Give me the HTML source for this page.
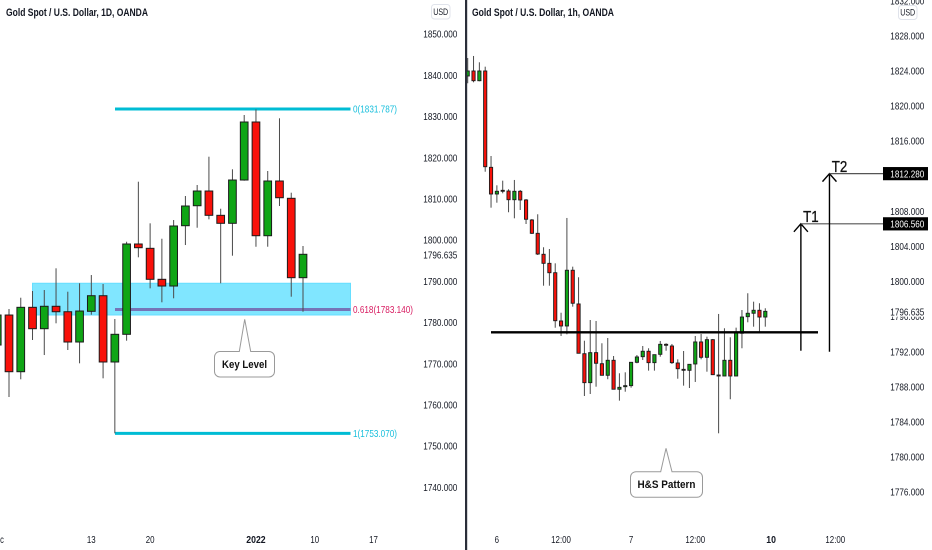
<!DOCTYPE html>
<html lang="en">
<head>
<meta charset="utf-8">
<title>Gold Spot / U.S. Dollar charts</title>
<style>
html,body{margin:0;padding:0;background:#fff;width:932px;height:550px;overflow:hidden}
svg{display:block;filter:blur(.3px)}
text{font-family:"Liberation Sans",sans-serif}
</style>
</head>
<body>
<svg id="chart" xmlns="http://www.w3.org/2000/svg" width="932" height="550" viewBox="0 0 932 550">
  <rect x="0" y="0" width="932" height="550" fill="#ffffff"/>
  <g id="left"></g>
  <g id="right"></g>
  <rect x="465" y="0" width="2.2" height="550" fill="#2a2e39"/>

  <text x="6" y="16" font-size="11" font-weight="700" fill="#131722" textLength="142" lengthAdjust="spacingAndGlyphs">Gold Spot / U.S. Dollar, 1D, OANDA</text>
  <text x="472" y="16" font-size="11" font-weight="700" fill="#131722" textLength="142" lengthAdjust="spacingAndGlyphs">Gold Spot / U.S. Dollar, 1h, OANDA</text>

  <g>
    <rect x="431.5" y="4.5" width="18.5" height="14.5" rx="3" fill="#fff" stroke="#e0e3eb"/>
    <text x="440.7" y="15" font-size="9.5" fill="#131722" text-anchor="middle" textLength="15" lengthAdjust="spacingAndGlyphs">USD</text>
  </g>
  <g>
    <rect x="898.5" y="5.5" width="18.5" height="14" rx="3" fill="#fff" stroke="#e0e3eb"/>
    <text x="907.7" y="15.5" font-size="9.5" fill="#131722" text-anchor="middle" textLength="15" lengthAdjust="spacingAndGlyphs">USD</text>
  </g>

  <g>
    <path d="M219.5 351.5 H239.3 L244.7 319.3 L250.7 351.5 H269 a5.5 5.5 0 0 1 5.5 5.5 V371.5 a5.5 5.5 0 0 1 -5.5 5.5 H220 a5.5 5.5 0 0 1 -5.5 -5.5 V357 a5.5 5.5 0 0 1 5 -5.5 Z" fill="#fff" stroke="#9a9a9a" stroke-width="1"/>
    <text x="244.5" y="368" font-size="11" font-weight="700" fill="#111" text-anchor="middle" textLength="45" lengthAdjust="spacingAndGlyphs">Key Level</text>
  </g>
  <g>
    <path d="M636 471.7 H660.7 L666 448.3 L672 471.7 H697 a5.5 5.5 0 0 1 5.5 5.5 V491.8 a5.5 5.5 0 0 1 -5.5 5.5 H636 a5.5 5.5 0 0 1 -5.5 -5.5 V477.2 a5.5 5.5 0 0 1 5.5 -5.5 Z" fill="#fff" stroke="#9a9a9a" stroke-width="1"/>
    <text x="666.5" y="488" font-size="11" font-weight="700" fill="#111" text-anchor="middle" textLength="58" lengthAdjust="spacingAndGlyphs">H&amp;S Pattern</text>
  </g>
</svg>
<script>
// ---- Daily chart data: [open, high, low, close] ----
const dailyCandles = [
  [1774.51,1785.44,1772.81,1781.79],[1781.79,1783.25,1761.89,1768.03],[1768.03,1785.99,1766.19,1783.66],
  [1783.66,1787.62,1775.73,1778.47],[1778.47,1787.86,1772.08,1783.91],[1783.91,1793.13,1779.78,1782.59],
  [1782.59,1787.45,1773.30,1775.24],[1775.24,1789.49,1770.07,1782.76],[1782.69,1791.50,1781.87,1786.48],
  [1786.48,1789.32,1766.43,1770.39],[1770.39,1780.82,1753.07,1777.11],[1777.11,1799.58,1775.56,1799.03],
  [1799.03,1814.15,1795.80,1798.13],[1797.98,1804.05,1788.27,1790.46],[1790.46,1800.31,1784.88,1788.83],
  [1788.83,1804.85,1785.85,1803.40],[1803.47,1810.68,1798.78,1808.25],[1808.32,1813.35,1802.98,1811.89],
  [1811.89,1820.22,1805.02,1805.99],[1805.99,1807.59,1789.49,1804.05],[1804.05,1817.16,1796.19,1814.56],
  [1814.56,1830.34,1814.39,1828.64],[1828.64,1831.72,1798.37,1801.04],[1801.04,1816.75,1798.37,1814.32],
  [1814.32,1829.54,1808.25,1810.26],[1810.12,1811.48,1786.24,1790.85],[1790.85,1798.54,1782.59,1796.53]
];
const dailyTicks = [1850,1840,1830,1820,1810,1800,1790,1780,1770,1760,1750,1740];
const dailyLastPrice = "1796.635";
const dailyTimeLabels = ["Dec","13","20","2022","10","17"];
const dailyTimeBars = [-1,7,12,21,26,31];
const dailyTimeBold = [false,false,false,true,false,false];
const fibValues = [1831.787,1783.14,1753.07];
const fibLabels = ["0(1831.787)","0.618(1783.140)","1(1753.070)"];
const keyZone = [1789.5,1781.8];

// ---- Hourly chart data: [open, high, low, close] ----
const hourlyCandles = [
  [1823.41,1825.46,1822.58,1823.98],[1823.98,1825.69,1822.69,1822.87],[1822.87,1824.97,1822.81,1823.98],
  [1823.98,1824.47,1812.50,1813.07],[1813.00,1814.29,1808.40,1809.96],[1809.96,1810.95,1808.97,1810.27],
  [1810.38,1811.48,1810.04,1810.27],[1810.30,1810.50,1807.88,1809.31],[1809.31,1811.56,1807.19,1810.27],
  [1810.27,1810.42,1808.14,1809.28],[1809.28,1809.39,1806.54,1807.08],[1807.00,1807.11,1805.40,1805.48],
  [1805.48,1807.65,1803.01,1803.12],[1803.09,1803.89,1799.51,1802.06],[1802.06,1803.69,1799.51,1800.99],
  [1800.99,1802.06,1794.72,1795.52],[1795.49,1796.43,1793.78,1794.92],[1794.92,1807.23,1793.97,1801.27],
  [1801.27,1801.68,1797.12,1797.51],[1797.43,1800.47,1791.81,1791.81],[1791.76,1793.24,1786.94,1788.46],
  [1788.46,1795.60,1787.17,1791.88],[1791.88,1795.49,1788.00,1790.67],[1790.62,1792.95,1789.30,1789.30],
  [1789.30,1793.55,1788.85,1791.01],[1791.01,1791.50,1787.71,1787.71],[1787.71,1789.53,1786.41,1787.93],
  [1788.00,1789.64,1787.43,1788.12],[1788.12,1790.78,1787.89,1790.78],[1790.78,1791.61,1790.67,1791.39],
  [1791.42,1792.64,1791.04,1792.04],[1792.04,1792.38,1789.83,1790.74],[1790.74,1791.65,1789.83,1791.65],
  [1791.69,1793.21,1791.42,1792.83],[1792.83,1792.95,1792.10,1792.72],[1792.64,1792.87,1790.59,1790.74],
  [1790.70,1791.12,1788.91,1790.05],[1789.98,1792.07,1788.12,1789.87],[1789.87,1790.55,1787.85,1790.55],
  [1790.59,1793.78,1788.54,1793.10],[1793.10,1794.01,1791.12,1791.35],[1791.35,1793.70,1789.71,1793.36],
  [1793.36,1793.44,1789.33,1789.37],[1789.33,1796.29,1782.69,1789.22],[1789.22,1794.66,1789.22,1791.01],
  [1791.01,1793.63,1786.57,1789.22],[1789.22,1794.73,1789.22,1794.16],[1794.09,1796.74,1792.38,1795.94],
  [1795.98,1798.65,1795.34,1796.37],[1796.37,1797.69,1794.84,1796.71],[1796.71,1797.51,1794.27,1795.94],
  [1795.94,1796.94,1794.84,1796.59]
];
const hourlyTicks = [1832,1828,1824,1820,1816,1812,1808,1804,1800,1796,1792,1788,1784,1780,1776];
const hourlyLastPrice = "1796.635";
const hourlyTimeLabels = ["6","12:00","7","12:00","10","12:00"];
const hourlyTimeBars = [5,16,28,39,52,63];
const hourlyTimeBold = [false,false,false,false,true,false];
const necklineLevel = 1794.2;
const targetValues = [1806.56,1812.28];
const targetNames = ["T1","T2"];
const targetLabels = ["1806.560","1812.280"];
const targetArrowBars = [57.1,62];
const targetStop = 1792.1;

// ---- Axis functions ----
const yL = p => 34 + (1850 - p) * 4.12;
const xL = i => 9 + 11.76 * i;
const yR = p => 35.7 + (1828 - p) * 8.775;
const xR = i => 467.7 + 5.835 * i;

const NS = "http://www.w3.org/2000/svg";
function make(tag, parent, attrs, txt) {
  const el = document.createElementNS(NS, tag);
  for (const k in attrs) el.setAttribute(k, attrs[k]);
  if (txt !== undefined) el.textContent = txt;
  parent.appendChild(el);
  return el;
}

function drawCandles(parent, rows, xf, yf, w, sw, firstIndex) {
  rows.forEach((r, n) => {
    const i = n + firstIndex;
    const up = r[3] >= r[0];
    const g = make("g", parent, {});
    
    
    make("line", g, {x1: xf(i), x2: xf(i), y1: yf(r[1]), y2: yf(r[2]), stroke: "#4a4a4a", "stroke-width": 1});
    const top = yf(Math.max(r[0], r[3]));
    const h = Math.max(Math.abs(yf(r[0]) - yf(r[3])), 0.6);
    make("rect", g, {x: xf(i) - w / 2, y: top, width: w, height: h, fill: up ? "#0fa515" : "#f8110a", stroke: "#1b1b1b", "stroke-width": sw});
  });
}

function tickText(parent, x, y, s, len, color, bold) {
  return make("text", parent, {x: x, y: y, "font-size": 10.5, fill: color || "#131722", textLength: len, lengthAdjust: "spacingAndGlyphs", "font-weight": bold ? 700 : 400}, s);
}

function timeText(parent, x, s, bold) {
  let len = 0;
  for (const ch of s) len += ch === ":" ? 2.2 : 4.4;
  if (bold) len *= 1.1;
  return make("text", parent, {x: x, y: 543, "font-size": 10.5, fill: "#131722", "text-anchor": "middle", textLength: len, lengthAdjust: "spacingAndGlyphs", "font-weight": bold ? 700 : 400}, s);
}

// ---- Daily pane ----
const L = document.getElementById("left");
const zone = make("rect", L, {x: 32.5, y: yL(keyZone[0]), width: 318, height: yL(keyZone[1]) - yL(keyZone[0]), fill: "#80e6ff", stroke: "#66deff", "stroke-width": 1});



const fibColors = ["#00bcd4", "#7575b8", "#00bcd4"];
const fibText = ["#18bfdc", "#d81b60", "#18bfdc"];
const fibLens = [44, 60, 44];
fibValues.forEach((v, k) => {
  const ln = make("line", L, {x1: 115, x2: 350.5, y1: yL(v), y2: yL(v), stroke: fibColors[k], "stroke-width": 3});
  
  
  const t = tickText(L, 353, yL(v) + 3.6, fibLabels[k], fibLens[k], fibText[k]);
  
  
});

drawCandles(L, dailyCandles, xL, yL, 7.7, 1, -1);

dailyTicks.forEach(v => {
  const t = tickText(L, 423.3, yL(v) + 3.7, v.toFixed(3), 34);
  
  
});
const lastL = tickText(L, 423.3, 258.4, dailyLastPrice, 34);



dailyTimeLabels.forEach((s, k) => {
  const t = timeText(L, xL(dailyTimeBars[k]), s, dailyTimeBold[k]);
  
  
});

// ---- Hourly pane ----
const R = document.getElementById("right");
drawCandles(R, hourlyCandles, xR, yR, 3.2, 0.9, 0);

const neck = make("line", R, {x1: 491, x2: 818, y1: yR(necklineLevel), y2: yR(necklineLevel), stroke: "#000", "stroke-width": 2.4});



hourlyTicks.forEach(v => {
  const t = tickText(R, 890.3, yR(v) + 3.7, v.toFixed(3), 34);
  
  
});
const lastBg = make("rect", R, {x: 889, y: 305, width: 37, height: 11.7, fill: "#fff"});


const lastR = tickText(R, 890.3, 315.4, hourlyLastPrice, 34);



targetValues.forEach((v, k) => {
  const ax = xR(targetArrowBars[k]);
  const y = yR(v);
  const g = make("g", R, {});
  
  
  make("line", g, {x1: ax, x2: ax, y1: y, y2: yR(targetStop) + (k ? 1 : 0), stroke: "#000", "stroke-width": 1.4});
  make("path", g, {d: "M" + (ax - 7) + " " + (y + 8) + " L" + ax + " " + y + " L" + (ax + 7) + " " + (y + 8), fill: "none", stroke: "#000", "stroke-width": 1.4});
  make("line", g, {x1: ax, x2: 883, y1: y, y2: y, stroke: "#555", "stroke-width": 1.2});
  const name = make("text", R, {x: ax + 2.3, y: y - 1.8, "font-size": 15.5, fill: "#111", stroke: "#111", "stroke-width": 0.35, textLength: 15.5, lengthAdjust: "spacingAndGlyphs"}, targetNames[k]);
  
  
  const box = make("rect", R, {x: 883, y: y - 6.6, width: 45, height: 13.2, fill: "#000"});
  
  
  const lab = tickText(R, 890.3, y + 3.7, targetLabels[k], 34, "#fff");
  
  
});

hourlyTimeLabels.forEach((s, k) => {
  const t = timeText(R, xR(hourlyTimeBars[k]), s, hourlyTimeBold[k]);
  
  
});
</script>
</body>
</html>
